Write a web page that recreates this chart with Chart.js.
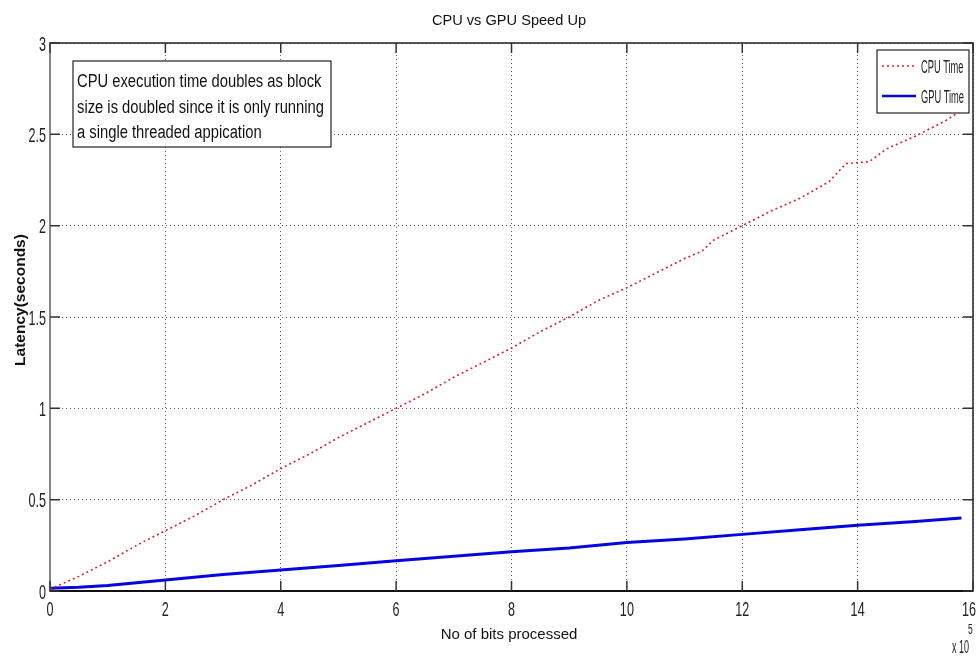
<!DOCTYPE html>
<html>
<head>
<meta charset="utf-8">
<script src="https://cdn.jsdelivr.net/npm/chart.js@4.4.1/dist/chart.umd.min.js"></script>
<style>
  html, body { margin: 0; padding: 0; background: #fff; }
  #wrap { width: 977px; height: 659px; }
</style>
</head>
<body>
<div id="wrap"><canvas id="speedChart" width="977" height="659"></canvas></div>
<script>
// block sizes (x 10^5 bits) and measured latencies in seconds
const cpuBits = [0, 0.5, 1, 1.5, 2, 2.5, 3, 3.5, 4, 4.5, 5, 5.5, 6, 6.5, 7, 7.5, 8, 8.5, 9, 9.5, 10, 10.5, 11, 11.3, 11.5, 12, 12.5, 13, 13.5, 13.8, 14.2, 14.5, 15, 15.5, 15.8];
const cpuTime = [0.01, 0.08, 0.16, 0.25, 0.33, 0.41, 0.50, 0.58, 0.67, 0.75, 0.84, 0.92, 1.00, 1.08, 1.17, 1.25, 1.33, 1.42, 1.50, 1.59, 1.66, 1.74, 1.82, 1.86, 1.92, 2.00, 2.08, 2.15, 2.24, 2.34, 2.35, 2.42, 2.49, 2.57, 2.63];
const gpuBits = [0, 0.5, 1, 1.5, 2, 3, 4, 5, 6, 7, 8, 9, 10, 11, 12, 13, 14, 15, 15.8];
const gpuTime = [0.015, 0.02, 0.03, 0.045, 0.06, 0.09, 0.115, 0.14, 0.165, 0.19, 0.215, 0.235, 0.265, 0.285, 0.31, 0.335, 0.36, 0.38, 0.40];
const seriesNames = ["CPU Time", "GPU Time"];
const noteLines = [
    "CPU execution time doubles as block",
    "size is doubled since it is only running",
    "a single threaded appication"
];

const arial = "'Liberation Sans', Arial, sans-serif";

function toPoints(xs, ys) {
    return xs.map((x, i) => ({ x: x, y: ys[i] }));
}

// matlab fonts come out narrow, so squeeze the text horizontally
function squeezed(ctx, text, x, y, font, sx, align) {
    ctx.save();
    ctx.translate(x, y);
    ctx.scale(sx, 1);
    ctx.font = font;
    ctx.textAlign = align;
    ctx.textBaseline = "alphabetic";
    ctx.fillText(text, 0, 0);
    ctx.restore();
}

// MATLAB style frame: title, labels, box, inward ticks, legend, text box
const matlabFrame = {
    id: "matlabFrame",
    afterDraw(chart) {
        const ctx = chart.ctx;
        const area = chart.chartArea;
        const xs = chart.scales.x;
        const ys = chart.scales.y;
        ctx.save();

        // title and axis titles
        ctx.fillStyle = "#111";
        squeezed(ctx, "CPU vs GPU Speed Up", 509, 25, "14.6px " + arial, 1, "center");
        squeezed(ctx, "No of bits processed", 509, 639, "15px " + arial, 1, "center");
        ctx.save();
        ctx.translate(25, 300);
        ctx.rotate(-Math.PI / 2);
        ctx.font = "bold 15.5px " + arial;
        ctx.textAlign = "center";
        ctx.textBaseline = "alphabetic";
        ctx.fillText("Latency(seconds)", 0, 0);
        ctx.restore();

        // box
        ctx.lineWidth = 1.5;
        ctx.strokeStyle = "#222";
        ctx.strokeRect(area.left, area.top, area.right - area.left, area.bottom - area.top);
        ctx.strokeStyle = "#888";
        ctx.lineWidth = 2;
        ctx.beginPath();
        ctx.moveTo(area.left, area.top);
        ctx.lineTo(area.left, area.bottom);
        ctx.stroke();
        ctx.strokeStyle = "#111";
        ctx.beginPath();
        ctx.moveTo(area.left, area.bottom);
        ctx.lineTo(area.right, area.bottom);
        ctx.stroke();

        // inward ticks and tick labels
        ctx.lineWidth = 1.5;
        ctx.strokeStyle = "#333";
        ctx.fillStyle = "#222";
        const len = 10;
        const tickFont = "21px " + arial;
        xs.ticks.forEach(t => {
            const px = xs.getPixelForValue(t.value);
            ctx.beginPath();
            ctx.moveTo(px, area.bottom);
            ctx.lineTo(px, area.bottom - len);
            ctx.moveTo(px, area.top);
            ctx.lineTo(px, area.top + len);
            ctx.stroke();
            ctx.font = tickFont;
            const half = ctx.measureText(String(t.value)).width * 0.6 / 2;
            if (px + half > 976) {
                squeezed(ctx, String(t.value), 976, 616, tickFont, 0.6, "right");
            } else {
                squeezed(ctx, String(t.value), px, 616, tickFont, 0.6, "center");
            }
        });
        ys.ticks.forEach(t => {
            const py = ys.getPixelForValue(t.value);
            ctx.beginPath();
            ctx.moveTo(area.left, py);
            ctx.lineTo(area.left + len, py);
            ctx.moveTo(area.right, py);
            ctx.lineTo(area.right - len, py);
            ctx.stroke();
            squeezed(ctx, String(t.value), 46, py + 7.5, tickFont, 0.6, "right");
        });

        // x 10^5 multiplier
        squeezed(ctx, "x 10", 952, 653, "18px " + arial, 0.5, "left");
        squeezed(ctx, "5", 968, 634, "14px " + arial, 0.6, "left");

        // annotation box
        ctx.fillStyle = "#fff";
        ctx.fillRect(73, 61, 258, 86);
        ctx.strokeStyle = "#222";
        ctx.lineWidth = 1.2;
        ctx.strokeRect(73, 61, 258, 86);
        ctx.fillStyle = "#111";
        noteLines.forEach((line, i) => {
            squeezed(ctx, line, 77, 87 + i * 25.5, "18px " + arial, 0.82, "left");
        });

        // legend
        const lx = 877, ly = 50, lw = 92, lh = 63;
        ctx.fillStyle = "#fff";
        ctx.fillRect(lx, ly, lw, lh);
        ctx.strokeStyle = "#222";
        ctx.lineWidth = 1.2;
        ctx.strokeRect(lx, ly, lw, lh);
        chart.data.datasets.forEach((ds, i) => {
            const cy = ly + 16 + i * 30;
            ctx.strokeStyle = ds.borderColor;
            ctx.lineWidth = i === 0 ? 1.5 : 2.5;
            ctx.setLineDash(ds.borderDash || []);
            ctx.beginPath();
            ctx.moveTo(lx + 5, cy);
            ctx.lineTo(lx + 39, cy);
            ctx.stroke();
            ctx.setLineDash([]);
            ctx.fillStyle = "#222";
            squeezed(ctx, ds.label, lx + 44, cy + 7, "17.5px " + arial, 0.53, "left");
        });
        ctx.restore();
    }
};

new Chart(document.getElementById("speedChart"), {
    type: "line",
    data: {
        datasets: [{
            label: seriesNames[0],
            data: toPoints(cpuBits, cpuTime),
            borderColor: "rgb(215, 35, 45)",
            borderWidth: 1.6,
            borderDash: [2, 3],
            pointRadius: 0,
            tension: 0,
            fill: false
        }, {
            label: seriesNames[1],
            data: toPoints(gpuBits, gpuTime),
            borderColor: "rgb(5, 5, 225)",
            borderWidth: 3,
            pointRadius: 0,
            tension: 0,
            fill: false
        }]
    },
    plugins: [matlabFrame],
    options: {
        responsive: false,
        animation: false,
        layout: { padding: { top: 43, left: 0, right: 4, bottom: 0 } },
        plugins: {
            legend: { display: false },
            title: { display: false },
            tooltip: { enabled: false }
        },
        scales: {
            x: {
                type: "linear",
                min: 0,
                max: 16,
                afterFit: s => { s.height = 68; s.paddingLeft = 0; s.paddingRight = 0; },
                ticks: { stepSize: 2, display: false },
                grid: { color: "#666", lineWidth: 1, drawTicks: false },
                border: { display: false, dash: [1, 3] }
            },
            y: {
                min: 0,
                max: 3,
                afterFit: s => { s.width = 50; s.paddingTop = 0; s.paddingBottom = 0; },
                ticks: { stepSize: 0.5, display: false },
                grid: { color: "#666", lineWidth: 1, drawTicks: false },
                border: { display: false, dash: [1, 3] }
            }
        }
    }
});
</script>
</body>
</html>
